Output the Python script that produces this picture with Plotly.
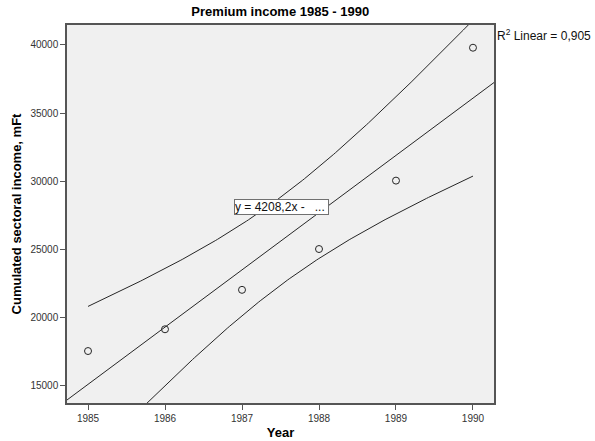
import numpy as np
import plotly.graph_objects as go

# Premium income per year (mFt)
years = [1985, 1986, 1987, 1988, 1989, 1990]
income = [17500, 19100, 22000, 25000, 30029, 39800]

x_ticks = [1985, 1986, 1987, 1988, 1989, 1990]
y_ticks = [15000, 20000, 25000, 30000, 35000, 40000]
y_tick_labels = ["15000", "20000", "25000", "30000", "35000", "40000"]

x_range = [1984.727, 1990.273]
y_range = [13680, 41470]

# Linear fit with 95% confidence band for the mean
x = np.array(years, dtype=float)
y = np.array(income, dtype=float)
n = len(x)
slope, intercept = np.polyfit(x, y, 1)
resid = y - (slope * x + intercept)
s = np.sqrt(np.sum(resid ** 2) / (n - 2))
sxx = np.sum((x - x.mean()) ** 2)
r2 = 1 - np.sum(resid ** 2) / np.sum((y - y.mean()) ** 2)
t_crit = 2.7764451051977987  # t(0.975, df=4)

xf = np.linspace(x_range[0], x_range[1], 200)
yf = slope * xf + intercept
xb = np.linspace(x.min(), x.max(), 200)
yb = slope * xb + intercept
half = t_crit * s * np.sqrt(1 / n + (xb - x.mean()) ** 2 / sxx)

line_style = dict(color="#262626", width=1)

fig = go.Figure()
fig.add_trace(go.Scatter(x=xb, y=yb + half, mode="lines", line=line_style, hoverinfo="skip"))
fig.add_trace(go.Scatter(x=xb, y=yb - half, mode="lines", line=line_style, hoverinfo="skip"))
fig.add_trace(go.Scatter(x=xf, y=yf, mode="lines", line=line_style, hoverinfo="skip"))
fig.add_trace(go.Scatter(
    x=years, y=income, mode="markers",
    marker=dict(symbol="circle-open", size=7, color="#262626", line=dict(width=1)),
))

font_family = "Liberation Sans, Arial, sans-serif"
slope_txt = ("%.1f" % slope).replace(".", ",")
r2_txt = ("%.3f" % r2).replace(".", ",")

fig.add_annotation(
    x=1987.51, y=28100, xref="x", yref="y",
    text="y = " + slope_txt + "x -\u00a0\u00a0\u00a0...",
    showarrow=False, bgcolor="white", bordercolor="#707070", borderwidth=1,
    borderpad=0, font=dict(family=font_family, size=12, color="#111"),
    width=93, height=14, align="left",
)
fig.add_annotation(
    x=1.003, y=1.0, xref="paper", yref="paper", xanchor="left", yanchor="top",
    text="R<sup>2</sup> Linear = " + r2_txt,
    showarrow=False, font=dict(family=font_family, size=12, color="#111"),
)

fig.update_layout(
    width=595, height=441,
    margin=dict(l=67, r=101, t=25, b=38),
    paper_bgcolor="white", plot_bgcolor="#f0f0f0",
    showlegend=False,
    font=dict(family=font_family, color="#222"),
    title=dict(text="<b>Premium income 1985 - 1990</b>", x=0.471, xanchor="center",
               y=0.985, yanchor="top", font=dict(size=13, color="#000")),
)
fig.update_xaxes(
    range=x_range, tickvals=x_ticks, ticktext=[str(v) for v in x_ticks],
    showgrid=False, zeroline=False, showline=True, mirror=True, automargin=False,
    linecolor="#555", linewidth=1.5, ticks="outside", ticklen=5, tickcolor="#555",
    tickfont=dict(size=10, color="#333"),
    title=dict(text="<b>Year</b>", font=dict(size=13, color="#000"), standoff=5),
)
fig.update_yaxes(
    range=y_range, tickvals=y_ticks, ticktext=y_tick_labels,
    showgrid=False, zeroline=False, showline=True, mirror=True, automargin=False,
    linecolor="#555", linewidth=1.5, ticks="outside", ticklen=5, tickcolor="#555",
    tickfont=dict(size=10, color="#333"),
    title=dict(text="<b>Cumulated sectoral income, mFt</b>", font=dict(size=13, color="#000"), standoff=6),
)

fig.write_html("out.html")
